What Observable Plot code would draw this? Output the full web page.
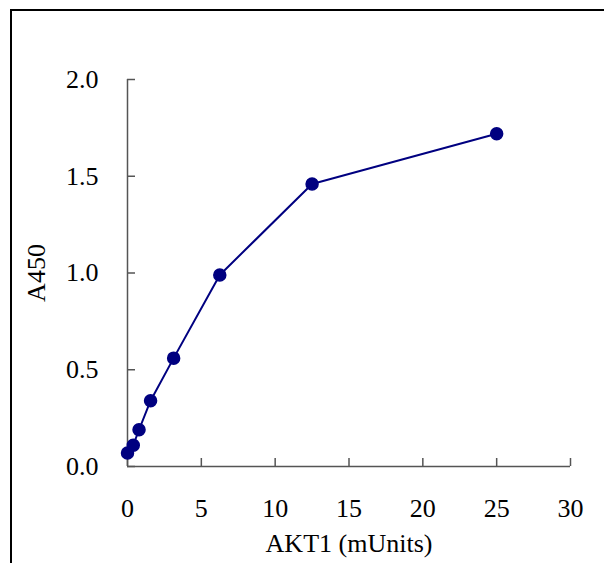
<!DOCTYPE html>
<html>
<head>
<meta charset="utf-8">
<script src="https://cdn.jsdelivr.net/npm/d3@7"></script>
<script src="https://cdn.jsdelivr.net/npm/@observablehq/plot@0.6"></script>
<style>
  html, body { margin: 0; padding: 0; background: #fff; }
  #wrap { position: relative; width: 604px; height: 563px; overflow: hidden; }
  #frame { position: absolute; left: 10px; top: 9px; width: 700px; height: 700px;
           border-left: 2px solid #000; border-top: 2px solid #000; pointer-events: none; }
  #chart { position: absolute; left: 0; top: 0; }
  #chart svg text { font-family: "Liberation Serif", "Times New Roman", serif; }
</style>
</head>
<body>
<div id="wrap"><div id="chart"></div><div id="frame"></div></div>
<script>
const akt1 = [0, 0.390625, 0.78125, 1.5625, 3.125, 6.25, 12.5, 25];
const a450 = [0.07, 0.11, 0.19, 0.34, 0.56, 0.99, 1.46, 1.72];
const xTicks = [0, 5, 10, 15, 20, 25, 30];
const yTicks = [0, 0.5, 1.0, 1.5, 2.0];
const xLabel = "AKT1 (mUnits)";
const yLabel = "A450";

const data = akt1.map((x, i) => ({x, y: a450[i]}));
const navy = "#000080";
const axisColor = "#555";

const chart = Plot.plot({
  width: 604,
  height: 563,
  marginLeft: 127,
  marginRight: 34,
  marginTop: 79,
  marginBottom: 97,
  style: {fontFamily: "Liberation Serif, serif", fontSize: "26px", color: "#000", background: "#fff"},
  x: {domain: [0, 30]},
  y: {domain: [0, 2]},
  marks: [
    Plot.axisX({ticks: xTicks, tickSize: -8, stroke: axisColor, strokeWidth: 1.5, tickFormat: () => "", label: null}),
    Plot.axisY({ticks: yTicks, tickSize: -8, stroke: axisColor, strokeWidth: 1.5, tickFormat: () => "", label: null}),
    Plot.axisX({ticks: xTicks, tickSize: 0, tickPadding: 32, tickFormat: d3.format("d"), fill: "#000",
                label: xLabel, labelAnchor: "center", labelArrow: "none", labelOffset: 85}),
    Plot.axisY({ticks: yTicks, tickSize: 0, tickPadding: 29, tickFormat: d3.format(".1f"), fill: "#000",
                label: yLabel, labelAnchor: "center", labelArrow: "none", labelOffset: 101}),
    Plot.ruleX([0], {stroke: axisColor, strokeWidth: 1.5}),
    Plot.ruleY([0], {stroke: axisColor, strokeWidth: 1.5}),
    Plot.line(data, {x: "x", y: "y", stroke: navy, strokeWidth: 2}),
    Plot.dot(data, {x: "x", y: "y", r: 6, fill: navy, stroke: navy})
  ]
});
document.getElementById("chart").appendChild(chart);
</script>
</body>
</html>
